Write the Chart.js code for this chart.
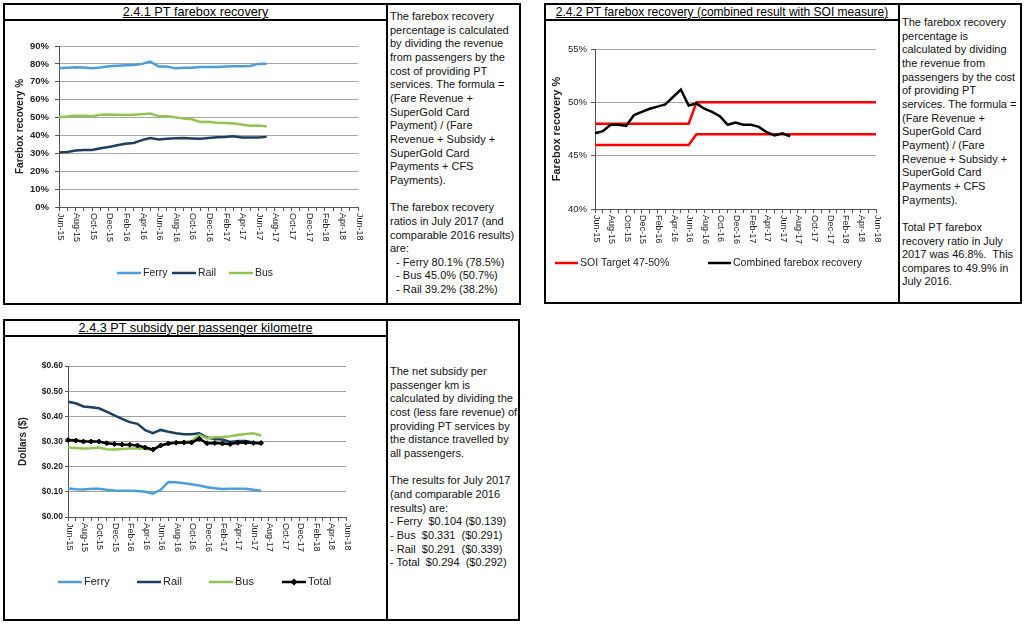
<!DOCTYPE html>
<html>
<head>
<meta charset="utf-8">
<script src="https://cdn.jsdelivr.net/npm/chart.js@4.4.1/dist/chart.umd.min.js"></script>
<style>
body{margin:0;width:1024px;height:625px;background:#fff;position:relative;font-family:"Liberation Sans",Arial,sans-serif;color:#000;overflow:hidden}
.cell{position:absolute;border:2px solid #000;box-sizing:border-box}
.ttl{position:absolute;left:0;right:0;top:0;height:14px;border-bottom:2px solid #000;text-align:center;font-size:12.7px;line-height:14px;white-space:nowrap}
.ttl span{text-decoration:underline}
.txt{position:absolute;font-size:11px;line-height:13.65px;white-space:nowrap;color:#111}
canvas{position:absolute}
</style>
</head>
<body>
<div class="cell" style="left:3px;top:3px;width:385px;height:302px"><div class="ttl"><span>2.4.1 PT farebox recovery</span></div></div>
<div class="cell" style="left:386px;top:3px;width:135px;height:302px"></div>
<div class="cell" style="left:544px;top:3px;width:356px;height:301px"><div class="ttl" style="font-size:12px"><span>2.4.2 PT farebox recovery (combined result with SOI measure)</span></div></div>
<div class="cell" style="left:898px;top:3px;width:124px;height:301px"></div>
<div class="cell" style="left:3px;top:319px;width:385px;height:302px"><div class="ttl"><span>2.4.3 PT subsidy per passenger kilometre</span></div></div>
<div class="cell" style="left:386px;top:319px;width:134px;height:302px"></div>

<div class="txt" style="left:390px;top:10px">The farebox recovery<br>percentage is calculated<br>by dividing the revenue<br>from passengers by the<br>cost of providing PT<br>services. The formula =<br>(Fare Revenue +<br>SuperGold Card<br>Payment) / (Fare<br>Revenue + Subsidy +<br>SuperGold Card<br>Payments + CFS<br>Payments).<br><br>The farebox recovery<br>ratios in July 2017 (and<br>comparable 2016 results)<br>are:<br>&nbsp; - Ferry 80.1% (78.5%)<br>&nbsp; - Bus 45.0% (50.7%)<br>&nbsp; - Rail 39.2% (38.2%)</div>
<div class="txt" style="left:902px;top:16px">The farebox recovery<br>percentage is<br>calculated by dividing<br>the revenue from<br>passengers by the cost<br>of providing PT<br>services. The formula =<br>(Fare Revenue +<br>SuperGold Card<br>Payment) / (Fare<br>Revenue + Subsidy +<br>SuperGold Card<br>Payments + CFS<br>Payments).<br><br>Total PT farebox<br>recovery ratio in July<br>2017 was 46.8%.&nbsp; This<br>compares to 49.9% in<br>July 2016.</div>
<div class="txt" style="left:390px;top:365px">The net subsidy per<br>passenger km is<br>calculated by dividing the<br>cost (less fare revenue) of<br>providing PT services by<br>the distance travelled by<br>all passengers.<br><br>The results for July 2017<br>(and comparable 2016<br>results) are:<br>- Ferry&nbsp; $0.104 ($0.139)<br>- Bus&nbsp; $0.331&nbsp; ($0.291)<br>- Rail&nbsp; $0.291&nbsp; ($0.339)<br>- Total&nbsp; $0.294&nbsp; ($0.292)</div>

<canvas id="c1" width="378" height="280" style="left:6px;top:22px"></canvas>
<canvas id="c2" width="350" height="280" style="left:547px;top:22px"></canvas>
<canvas id="c3" width="378" height="280" style="left:6px;top:339px"></canvas>

<script>
// months Jun-15 .. Jun-18, labelled every second month
const months = ['Jun-15','Jul-15','Aug-15','Sep-15','Oct-15','Nov-15','Dec-15','Jan-16','Feb-16','Mar-16','Apr-16','May-16',
  'Jun-16','Jul-16','Aug-16','Sep-16','Oct-16','Nov-16','Dec-16','Jan-17','Feb-17','Mar-17','Apr-17','May-17',
  'Jun-17','Jul-17','Aug-17','Sep-17','Oct-17','Nov-17','Dec-17','Jan-18','Feb-18','Mar-18','Apr-18','May-18','Jun-18'];

// 2.4.1 farebox recovery %, Jun-15 .. Jul-17
const ferryRecovery = [77.6, 77.9, 78.1, 78.0, 77.5, 78.0, 78.7, 79.0, 79.3, 79.4, 80.0, 81.3, 78.5, 78.5, 77.5, 77.8, 77.9, 78.3, 78.3, 78.3, 78.6, 78.7, 78.7, 78.8, 80.0, 80.1];
const railRecovery = [30.4, 30.8, 31.6, 31.8, 31.9, 32.8, 33.6, 34.5, 35.4, 35.8, 37.4, 38.5, 37.8, 38.2, 38.4, 38.6, 38.3, 38.1, 38.6, 39.0, 39.1, 39.5, 38.9, 38.8, 38.9, 39.2];
const busRecovery = [50.1, 50.6, 51.0, 51.0, 50.8, 51.6, 51.7, 51.6, 51.4, 51.6, 51.8, 52.2, 50.8, 50.7, 50.2, 49.4, 49.0, 47.5, 47.7, 47.1, 46.9, 46.7, 46.1, 45.4, 45.6, 45.0];

// 2.4.2 combined result and SOI target band
const combinedRecovery = [47.1, 47.3, 47.9, 47.9, 47.8, 48.8, 49.1, 49.4, 49.6, 49.8, 50.5, 51.2, 49.7, 49.9, 49.4, 49.1, 48.7, 47.9, 48.1, 47.9, 47.9, 47.7, 47.2, 46.9, 47.1, 46.8];
const soiUpper = [48, 48, 48, 48, 48, 48, 48, 48, 48, 48, 48, 48, 48, 50, 50, 50, 50, 50, 50, 50, 50, 50, 50, 50, 50, 50, 50, 50, 50, 50, 50, 50, 50, 50, 50, 50, 50];
const soiLower = [46, 46, 46, 46, 46, 46, 46, 46, 46, 46, 46, 46, 46, 47, 47, 47, 47, 47, 47, 47, 47, 47, 47, 47, 47, 47, 47, 47, 47, 47, 47, 47, 47, 47, 47, 47, 47];

// 2.4.3 subsidy per passenger km ($)
const ferrySubsidy = [0.113, 0.110, 0.109, 0.112, 0.112, 0.108, 0.105, 0.104, 0.104, 0.103, 0.100, 0.093, 0.108, 0.139, 0.138, 0.134, 0.130, 0.125, 0.118, 0.114, 0.111, 0.112, 0.112, 0.112, 0.108, 0.104];
const railSubsidy = [0.458, 0.452, 0.439, 0.436, 0.432, 0.419, 0.404, 0.390, 0.377, 0.370, 0.345, 0.333, 0.346, 0.339, 0.333, 0.329, 0.329, 0.333, 0.316, 0.310, 0.308, 0.298, 0.302, 0.302, 0.296, 0.291];
const busSubsidy = [0.276, 0.274, 0.272, 0.273, 0.276, 0.269, 0.268, 0.270, 0.272, 0.272, 0.270, 0.267, 0.285, 0.291, 0.296, 0.299, 0.302, 0.326, 0.312, 0.317, 0.318, 0.321, 0.326, 0.330, 0.333, 0.324];
const totalSubsidy = [0.306, 0.304, 0.300, 0.300, 0.300, 0.293, 0.290, 0.288, 0.287, 0.284, 0.276, 0.268, 0.284, 0.292, 0.295, 0.296, 0.296, 0.311, 0.293, 0.294, 0.292, 0.290, 0.295, 0.296, 0.294, 0.294];

const FERRY = '#4a9fdb', RAIL = '#1d3f60', BUS = '#93c451';
const FONT = '"Liberation Sans", Arial, sans-serif';
Chart.defaults.font.family = FONT;
Chart.defaults.color = '#222';

// x labels rotated clockwise (read top to bottom), like the original
const vertLabels = {
  id: 'vertLabels',
  afterDraw(chart, args, opts) {
    const sc = chart.scales.x, ctx = chart.ctx;
    ctx.save();
    ctx.font = opts.font;
    ctx.fillStyle = '#222';
    ctx.textAlign = 'left';
    ctx.textBaseline = 'middle';
    sc.ticks.forEach((t, i) => {
      if (!t.label) return;
      ctx.save();
      ctx.translate(sc.getPixelForTick(i) + 1, sc.top + opts.gap);
      ctx.rotate(Math.PI / 2);
      ctx.fillText(t.label, 0, 0);
      ctx.restore();
    });
    ctx.restore();
  }
};

// legend drawn as in the original: short line sample, then the name
const lineLegend = {
  id: 'lineLegend',
  afterDraw(chart, args, opts) {
    const ctx = chart.ctx;
    ctx.save();
    ctx.font = opts.font;
    ctx.textAlign = 'left';
    ctx.textBaseline = 'middle';
    let k = 0;
    chart.data.datasets.forEach(ds => {
      if (ds.label.startsWith('_')) return;
      const x = opts.x[k++], y = opts.y;
      ctx.strokeStyle = ds.borderColor;
      ctx.lineWidth = 2.5;
      ctx.beginPath();
      ctx.moveTo(x, y);
      ctx.lineTo(x + opts.w, y);
      ctx.stroke();
      if (ds.pointRadius) {
        const cx = x + opts.w / 2;
        ctx.fillStyle = ds.borderColor;
        ctx.beginPath();
        ctx.moveTo(cx, y - 3.5); ctx.lineTo(cx + 3.5, y); ctx.lineTo(cx, y + 3.5); ctx.lineTo(cx - 3.5, y);
        ctx.closePath();
        ctx.fill();
      }
      ctx.fillStyle = '#222';
      ctx.fillText(ds.label, x + opts.w + 2, y);
    });
    ctx.restore();
  }
};

function xScale(h) {
  return {
    ticks: { display: false, autoSkip: false, callback: (v, i) => (i % 2 === 0 ? months[i] : '') },
    grid: { display: true, drawOnChartArea: false, drawTicks: true, tickLength: 4, tickColor: '#555' },
    border: { color: '#555', width: 1 },
    afterFit: s => { s.height = h; }
  };
}

// 2.4.1
new Chart(document.getElementById('c1'), {
  type: 'line',
  data: {
    labels: months,
    datasets: [
      { label: 'Ferry', data: ferryRecovery, borderColor: FERRY, backgroundColor: FERRY },
      { label: 'Rail', data: railRecovery, borderColor: RAIL, backgroundColor: RAIL },
      { label: 'Bus', data: busRecovery, borderColor: BUS, backgroundColor: BUS }
    ]
  },
  options: {
    responsive: false, animation: false,
    layout: { padding: { left: 3, top: 24, right: 26, bottom: 45 } },
    elements: { line: { borderWidth: 2.5, tension: 0 }, point: { radius: 0 } },
    scales: {
      x: xScale(50),
      y: {
        min: 0, max: 90,
        ticks: { stepSize: 10, padding: 6, color: '#222', font: { size: 9.5, weight: 'bold' }, callback: v => v + '%' },
        grid: { color: '#a6a6a6', tickLength: 4, tickColor: '#555' },
        border: { color: '#555' },
        title: { display: true, text: 'Farebox recovery %', color: '#222', font: { size: 10, weight: 'bold' }, padding: { top: 5, bottom: 0 } },
        afterFit: s => { s.width = 50; }
      }
    },
    plugins: {
      legend: { display: false },
      tooltip: { enabled: false },
      vertLabels: { font: '9px ' + FONT, gap: 6 },
      lineLegend: { font: '10.5px ' + FONT, y: 251, w: 24, x: [111, 166, 223] }
    }
  },
  plugins: [vertLabels, lineLegend]
});

// 2.4.2
new Chart(document.getElementById('c2'), {
  type: 'line',
  data: {
    labels: months,
    datasets: [
      { label: 'SOI Target 47-50%', data: soiUpper, borderColor: '#ff0000', backgroundColor: '#ff0000', order: 3 },
      { label: '_soi lower', data: soiLower, borderColor: '#ff0000', backgroundColor: '#ff0000', order: 2 },
      { label: 'Combined farebox recovery', data: combinedRecovery, borderColor: '#000', backgroundColor: '#000', order: 1 }
    ]
  },
  options: {
    responsive: false, animation: false,
    layout: { padding: { left: 3, top: 27, right: 21, bottom: 43 } },
    elements: { line: { borderWidth: 2.5, tension: 0 }, point: { radius: 0 } },
    scales: {
      x: xScale(50),
      y: {
        min: 40, max: 55,
        ticks: { stepSize: 5, padding: 4, color: '#222', font: { size: 9.5 }, callback: v => v + '%' },
        grid: { color: '#a6a6a6', tickLength: 4, tickColor: '#555' },
        border: { color: '#555' },
        title: { display: true, text: 'Farebox recovery %', color: '#222', font: { size: 11, weight: 'bold' }, padding: { top: 0, bottom: 0 } },
        afterFit: s => { s.width = 45; }
      }
    },
    plugins: {
      legend: { display: false },
      tooltip: { enabled: false },
      vertLabels: { font: '9px ' + FONT, gap: 6 },
      lineLegend: { font: '10.5px ' + FONT, y: 241, w: 23, x: [8, 161] }
    }
  },
  plugins: [vertLabels, lineLegend]
});

// 2.4.3
new Chart(document.getElementById('c3'), {
  type: 'line',
  data: {
    labels: months,
    datasets: [
      { label: 'Ferry', data: ferrySubsidy, borderColor: FERRY, backgroundColor: FERRY, order: 4 },
      { label: 'Rail', data: railSubsidy, borderColor: RAIL, backgroundColor: RAIL, order: 3 },
      { label: 'Bus', data: busSubsidy, borderColor: BUS, backgroundColor: BUS, order: 2 },
      { label: 'Total', data: totalSubsidy, borderColor: '#000', backgroundColor: '#000', order: 1,
        pointRadius: 2.5, pointStyle: 'rectRot', pointBorderWidth: 1 }
    ]
  },
  options: {
    responsive: false, animation: false,
    layout: { padding: { left: 3, top: 27, right: 38, bottom: 52 } },
    elements: { line: { borderWidth: 2.5, tension: 0 }, point: { radius: 0 } },
    scales: {
      x: xScale(50),
      y: {
        min: 0, max: 0.6,
        ticks: { stepSize: 0.1, padding: 2, color: '#222', font: { size: 8.5, weight: 'bold' }, callback: v => '$' + v.toFixed(2) },
        grid: { color: '#a0a0a0', tickLength: 3, tickColor: '#555' },
        border: { color: '#555' },
        title: { display: true, text: 'Dollars ($)', color: '#222', font: { size: 10, weight: 'bold' }, padding: { top: 8, bottom: 0 } },
        afterFit: s => { s.width = 59; }
      }
    },
    plugins: {
      legend: { display: false },
      tooltip: { enabled: false },
      vertLabels: { font: '9px ' + FONT, gap: 6 },
      lineLegend: { font: '11px ' + FONT, y: 243, w: 24, x: [52, 131, 203, 276] }
    }
  },
  plugins: [vertLabels, lineLegend]
});
</script>
</body>
</html>
